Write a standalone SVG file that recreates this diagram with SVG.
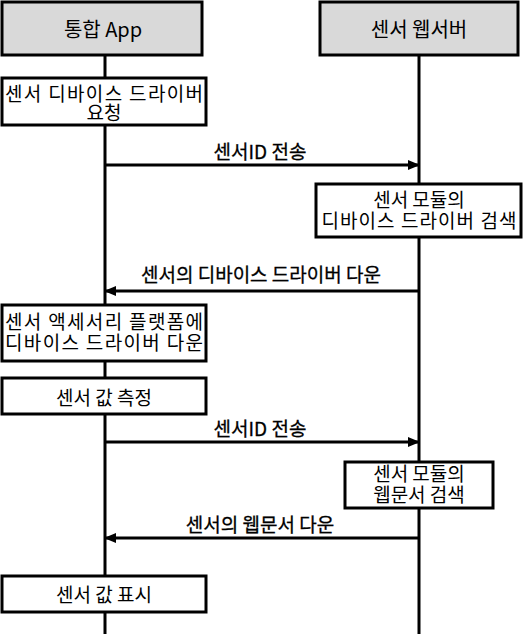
<svg xmlns="http://www.w3.org/2000/svg" width="526" height="636" viewBox="0 0 526 636">
<style>
.hdr{fill:#d9d9d9;stroke:#000;stroke-width:3}
.box{fill:#fff;stroke:#000;stroke-width:3}
.life{stroke:#000;stroke-width:3;fill:none}
.msg{stroke:#000;stroke-width:3;fill:none}
text{font-family:"Noto Sans CJK KR","Noto Sans",sans-serif;font-size:19px;fill:#000;text-anchor:middle;dominant-baseline:central}
.lbl{stroke:#000;stroke-width:0.3}
</style>
<defs>
<marker id="ah" markerWidth="12" markerHeight="10" refX="11" refY="5" orient="auto" markerUnits="userSpaceOnUse">
<path d="M0,0 L12,5 L0,10 Z" fill="#000"/>
</marker>
</defs>
<g id="lifelines">
<line class="life" x1="105" y1="55" x2="105" y2="634"/>
<line class="life" x1="419" y1="55" x2="419" y2="634"/>
</g>
<g id="app">
<rect class="hdr" x="2" y="2" width="200" height="53"/>
<text x="103" y="28" style="font-size:20px">통합 App</text>
</g>
<g id="server">
<rect class="hdr" x="320" y="2" width="198" height="53"/>
<text x="419" y="28" style="font-size:20px">센서 웹서버</text>
</g>
<g id="n1">
<rect class="box" x="2" y="78" width="204" height="47"/>
<text x="104" y="92" textLength="198" lengthAdjust="spacing">센서 디바이스 드라이버</text>
<text x="104" y="111">요청</text>
</g>
<g id="n2">
<rect class="box" x="316" y="184" width="205" height="53"/>
<text x="419" y="198">센서 모듈의</text>
<text x="419" y="219" textLength="195" lengthAdjust="spacing">디바이스 드라이버 검색</text>
</g>
<g id="n3">
<rect class="box" x="2" y="305" width="204" height="56"/>
<text x="104" y="320" textLength="198" lengthAdjust="spacing">센서 액세서리 플랫폼에</text>
<text x="104" y="341" textLength="198" lengthAdjust="spacing">디바이스 드라이버 다운</text>
</g>
<g id="n4">
<rect class="box" x="2" y="378" width="204" height="36"/>
<text x="104" y="396">센서 값 측정</text>
</g>
<g id="n5">
<rect class="box" x="345" y="462" width="148" height="46"/>
<text x="419" y="472">센서 모듈의</text>
<text x="419" y="493">웹문서 검색</text>
</g>
<g id="n6">
<rect class="box" x="2" y="576" width="204" height="36"/>
<text x="104" y="593">센서 값 표시</text>
</g>
<g id="connectors">
<line class="msg" x1="105" y1="165" x2="419" y2="165" marker-end="url(#ah)"/>
<text class="lbl" x="260" y="150">센서ID 전송</text>
<line class="msg" x1="419" y1="291" x2="105" y2="291" marker-end="url(#ah)"/>
<text class="lbl" x="261" y="273">센서의 디바이스 드라이버 다운</text>
<line class="msg" x1="105" y1="442" x2="419" y2="442" marker-end="url(#ah)"/>
<text class="lbl" x="260" y="427">센서ID 전송</text>
<line class="msg" x1="419" y1="538" x2="105" y2="538" marker-end="url(#ah)"/>
<text class="lbl" x="260" y="523">센서의 웹문서 다운</text>
</g>
</svg>
